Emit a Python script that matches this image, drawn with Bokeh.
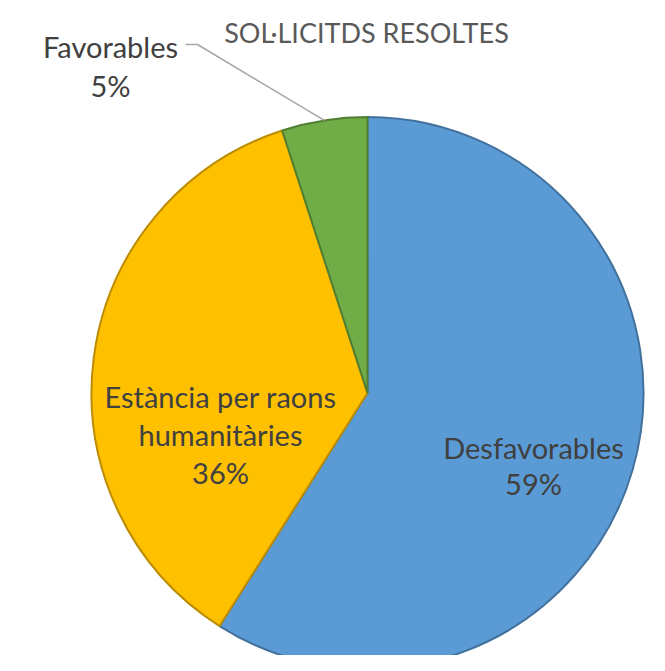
import math
from bokeh.plotting import figure
from bokeh.models import ColumnDataSource, Range1d
from bokeh.core.properties import value
from bokeh.embed import file_html
from bokeh.resources import INLINE

# ---- data ----
categories = ["Desfavorables", "Estància per raons humanitàries", "Favorables"]
percent = [59, 36, 5]
label_lines = [["Desfavorables", "59%"],
               ["Estància per raons", "humanitàries", "36%"],
               ["Favorables", "5%"]]
title_text = "SOL·LICITDS RESOLTES"

# ---- styles / layout ----
fills = ["#5B9BD5", "#FFC000", "#70AD47"]
edges = ["#41719C", "#BC8C00", "#507E32"]
W, H = 649, 655
CX, CY, R = 367, H - 392.5, 276
FONT = "Lato"
LABEL_SIZE = "29px"
label_anchor = [(533, H - 447), (220, H - 396), (110, H - 46)]  # first baseline
label_steps = [36, 38, 39]

total = float(sum(percent))
starts, ends, mids = [], [], []
a = math.pi / 2
for v in percent:
    span = v / total * 2 * math.pi
    starts.append(a)
    ends.append(a - span)
    mids.append(a - span / 2)
    a -= span

src = ColumnDataSource(dict(x=[CX] * 3, y=[CY] * 3, r=[R] * 3,
                            start=starts, end=ends, fill=fills, edge=edges,
                            cat=categories, pct=percent))

p = figure(width=W, height=H, output_backend="svg", toolbar_location=None,
           x_range=Range1d(0, W), y_range=Range1d(0, H), min_border=0)
p.axis.visible = False
p.grid.visible = False
p.outline_line_color = None
p.background_fill_color = "white"
p.border_fill_color = "white"

p.wedge(x="x", y="y", radius="r", start_angle="start", end_angle="end",
        direction="clock", fill_color="fill", line_color="edge",
        line_width=2, source=src)

# leader line for the small slice
m = mids[2]
ex, ey = CX + R * math.cos(m), CY + R * math.sin(m)
p.line(x=[185, 197, ex], y=[H - 44, H - 44, ey], line_color="#A6A6A6", line_width=1.5)

# labels
for lines, (lx, ly), step in zip(label_lines, label_anchor, label_steps):
    xs = [lx] * len(lines)
    ys = [ly - i * step for i in range(len(lines))]
    p.text(x=xs, y=ys, text=lines, text_align="center", text_baseline="alphabetic",
           text_font=value(FONT), text_font_size=LABEL_SIZE, text_color="#404040")

# title
p.text(x=[366], y=[H - 32], text=[title_text], text_align="center",
       text_baseline="alphabetic", text_font=value(FONT), text_font_size="27px",
       text_color="#595959")

open("out.html", "w").write(file_html(p, INLINE))
